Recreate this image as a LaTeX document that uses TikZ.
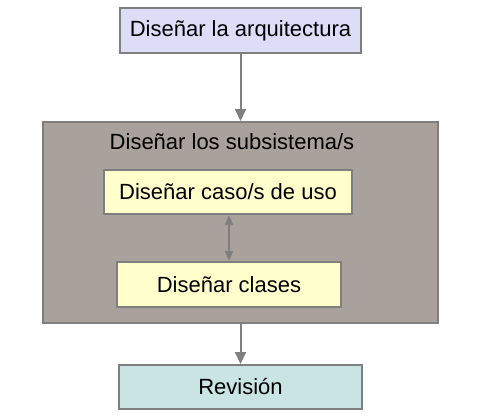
\documentclass[tikz,border=0pt]{standalone}
\usepackage{fontspec}
\setmainfont{Liberation Sans}
\usetikzlibrary{arrows.meta}
\definecolor{bordergray}{HTML}{7F7F7F}
\definecolor{lavfill}{HTML}{DDDDF8}
\definecolor{taupefill}{HTML}{A9A19C}
\definecolor{yelfill}{HTML}{FFFFCC}
\definecolor{tealfill}{HTML}{C9E4E2}
\begin{document}
\begin{tikzpicture}[x=1pt,y=-1pt,
  box/.style={draw=bordergray,line width=2pt,inner sep=0pt,font=\fontsize{22}{26}\selectfont,text=black},
  conn/.style={draw=bordergray,line width=2pt,-{Triangle[width=11pt,length=12pt]}},
  dconn/.style={draw=bordergray,line width=2pt,{Triangle[width=8pt,length=10pt]}-{Triangle[width=8pt,length=10pt]}}]
\useasboundingbox (0,0) rectangle (477,415);
\node[box,fill=lavfill,minimum width=241pt,minimum height=45pt] (arq) at (240.5,30.5) {Diseñar la arquitectura};
\node[box,fill=taupefill,minimum width=395pt,minimum height=201pt] (sub) at (240.5,222.5) {};
\node[font=\fontsize{22}{26}\selectfont,inner sep=0pt] (subt) at (232,142) {Diseñar los subsistema/s};
\node[box,fill=yelfill,minimum width=248pt,minimum height=44pt] (caso) at (228,192) {Diseñar caso/s de uso};
\node[box,fill=yelfill,minimum width=224pt,minimum height=45pt] (clases) at (229,284.5) {Diseñar clases};
\node[box,fill=tealfill,minimum width=243pt,minimum height=44pt] (rev) at (240.5,387) {Revisión};
\draw[conn] (arq.south) -- (arq.south |- sub.north);
\draw[conn] (sub.south -| arq.south) -- (rev.north -| arq.south);
\draw[dconn] (clases.north |- caso.south) -- (clases.north);
\end{tikzpicture}
\end{document}
